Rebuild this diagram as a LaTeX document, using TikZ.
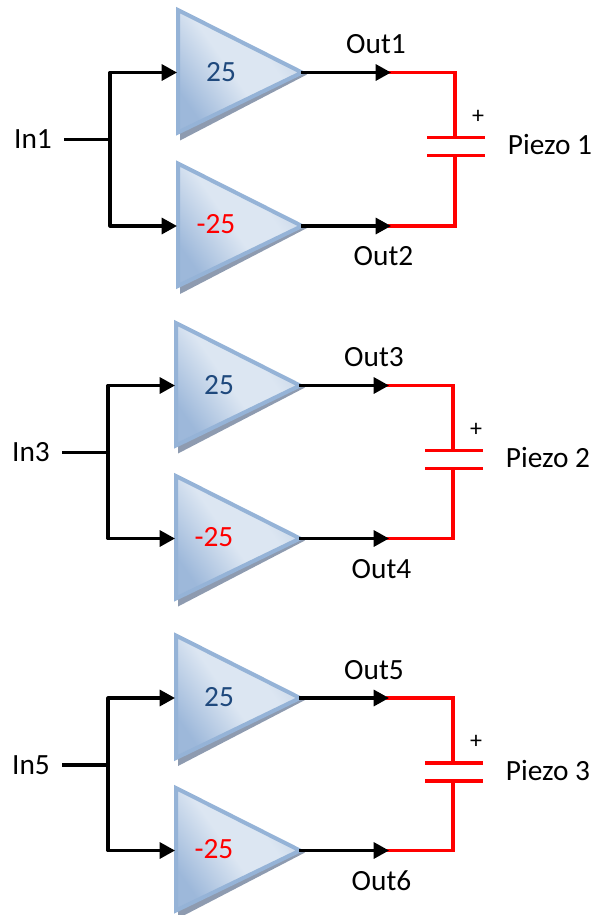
\documentclass[tikz,border=0pt]{standalone}
\usepackage{fontspec}
\setmainfont{Carlito}
\usetikzlibrary{arrows.meta,calc}
\definecolor{ampedge}{HTML}{95B3D7}
\definecolor{ampshadow}{HTML}{8E9BB0}
\definecolor{amplow}{HTML}{9DB8DA}
\definecolor{ampmid}{HTML}{DCE6F2}
\definecolor{amphigh}{HTML}{C3D2E5}
\definecolor{gainblue}{HTML}{1F497D}
\pgfdeclarehorizontalshading{ampshading}{100bp}{
  color(0bp)=(amplow); color(25bp)=(amplow); color(47bp)=(ampmid);
  color(62bp)=(ampmid); color(76bp)=(amphigh); color(100bp)=(amphigh)}
\tikzset{
  x=0.75pt,y=-0.75pt,
  lbl/.style={font=\fontsize{22}{26}\selectfont,text=black,inner sep=0pt},
  plus/.style={font=\fontsize{18}{21}\selectfont,text=black,inner sep=0pt},
  gainpos/.style={font=\fontsize{22}{26}\selectfont,text=gainblue,inner sep=0pt},
  gainneg/.style={font=\fontsize{22}{26}\selectfont,text=red,inner sep=0pt},
  sig/.style={draw=black,line width=2.4pt,line join=round},
  sigarrow/.style={sig,-{Triangle[length=11.5pt,width=12pt]}},
  piezo/.style={draw=red,line width=2.4pt,line join=miter},
  ampbody/.style={draw=ampedge,line width=3pt,line join=miter,
    shading=ampshading,shading angle=35},
  ampshade/.style={fill=ampshadow,draw=none},
}
% #1 prefix, #2 dx, #3 y top, #4 y bottom, #5 in text, #6/#7 out texts, #8 piezo text
\newcommand{\ampgroup}[8]{%
  \begin{scope}[shift={(#2,0)}]
    \foreach \n/\yy in {a/#3,b/#4}{
      \fill[ampshade] (180,\yy-56) -- (307,\yy+2) -- (180,\yy+68) -- cycle;
      \path[ampbody] (178,\yy-62.5) -- (302,\yy) -- (178,\yy+60) -- cycle;
      \coordinate (#1\n in) at (177,\yy);
      \coordinate (#1\n tip) at (301,\yy);
      \coordinate (#1\n bend) at (110,\yy);
      \coordinate (#1\n end) at (391,\yy);
      \coordinate (#1\n cor) at (455,\yy);
    }
    \node[gainpos] (#1gainp) at (221,#3-0.5) {25};
    \node[gainneg] (#1gainn) at (216,#4-1.5) {-25};
    \node[lbl] (#1in) at (33,#3+67) {#5};
    \coordinate (#1instart) at (64,#3+67);
    \coordinate (#1junction) at (110,#3+67);
    \node[lbl] (#1outa) at (376,#3-28) {#6};
    \node[lbl] (#1outb) at (383.5,#4+30.5) {#7};
    \node[plus] (#1plus) at (478,#3+44) {+};
    \node[lbl] (#1piezo) at (550,#3+72) {#8};
    \coordinate (#1pa) at (455,#3+65);
    \coordinate (#1pb) at (455,#3+83);
    \coordinate (#1pal) at (427,#3+65);
    \coordinate (#1par) at (485,#3+65);
    \coordinate (#1pbl) at (427,#3+83);
    \coordinate (#1pbr) at (485,#3+83);
    \draw[sig] (#1instart) -- (#1junction);
    \draw[sigarrow] (#1junction) -- (#1abend) -- (#1ain);
    \draw[sigarrow] (#1junction) -- (#1bbend) -- (#1bin);
    \draw[piezo] ($(#1aend)+(-3,0)$) -- (#1acor) -- (#1pa);
    \draw[piezo] ($(#1bend)+(-3,0)$) -- (#1bcor) -- (#1pb);
    \draw[piezo] (#1pal) -- (#1par);
    \draw[piezo] (#1pbl) -- (#1pbr);
    \draw[sigarrow] (#1atip) -- (#1aend);
    \draw[sigarrow] (#1btip) -- (#1bend);
  \end{scope}%
}
\begin{document}
\begin{tikzpicture}
  \useasboundingbox (0,0) rectangle (593,915);
  \ampgroup{g1}{0}{72.5}{226}{In1}{Out1}{Out2}{Piezo 1}
  \ampgroup{g2}{-2}{385.5}{538.5}{In3}{Out3}{Out4}{Piezo 2}
  \ampgroup{g3}{-2}{698}{850.5}{In5}{Out5}{Out6}{Piezo 3}
\end{tikzpicture}
\end{document}
